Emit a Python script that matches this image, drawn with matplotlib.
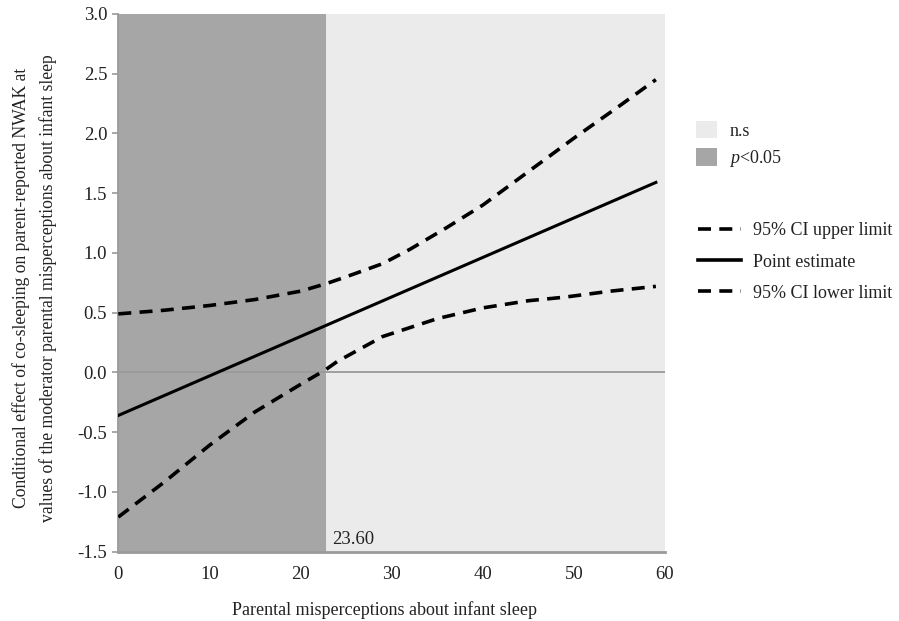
import matplotlib
matplotlib.use("Agg")
import matplotlib.pyplot as plt
from matplotlib.patches import Patch
from matplotlib.lines import Line2D

plt.rcParams['font.family'] = ['Liberation Serif', 'DejaVu Serif']
plt.rcParams['axes.unicode_minus'] = False
plt.rcParams['mathtext.fontset'] = 'custom'
plt.rcParams['mathtext.rm'] = 'Liberation Serif'
plt.rcParams['mathtext.it'] = 'Liberation Serif:italic'

# values
x_est = [0, 59]
point_estimate = [-0.36, 1.59]

x_upper = [0, 5, 10, 15, 20, 22.7, 25, 29, 32, 36, 40, 45, 50, 55, 59]
ci_upper = [0.49, 0.52, 0.56, 0.61, 0.68, 0.74, 0.80, 0.91, 1.03, 1.21, 1.40, 1.68, 1.96, 2.23, 2.45]

x_lower = [0, 5, 10, 15, 20, 22.7, 24, 29, 35, 40, 45, 49, 54, 59]
ci_lower = [-1.21, -0.92, -0.61, -0.33, -0.10, 0.02, 0.09, 0.30, 0.45, 0.54, 0.60, 0.63, 0.68, 0.72]

sig_bound = 22.8
jn_label = "23.60"
x_ticks = [0, 10, 20, 30, 40, 50, 60]
y_ticks = [-1.5, -1.0, -0.5, 0.0, 0.5, 1.0, 1.5, 2.0, 2.5, 3.0]

dark = '#a6a6a6'
light = '#ebebeb'
txt = '#222222'
fs = 13.5

fig = plt.figure(figsize=(8.99, 6.21), dpi=100)
ax = fig.add_axes([0.1316, 0.1116, 0.6081, 0.866])

ax.axvspan(0, sig_bound, color=dark, lw=0, zorder=0)
ax.axvspan(sig_bound, 60, color=light, lw=0, zorder=0)
ax.axhline(0, color='#9a9a9a', lw=1.3, zorder=1)

ax.plot(x_upper, ci_upper, color='black', lw=2.6, dashes=(3.6, 2.3), zorder=3)
ax.plot(x_est, point_estimate, color='black', lw=2.2, zorder=3)
ax.plot(x_lower, ci_lower, color='black', lw=2.6, dashes=(3.6, 2.3), zorder=3)

ax.text(sig_bound + 0.7, -1.47, jn_label, fontsize=fs, ha='left', va='bottom', color=txt)

ax.set_xlim(0, 60)
ax.set_ylim(-1.5, 3.0)
ax.set_xticks(x_ticks)
ax.set_xticklabels([str(v) for v in x_ticks])
ax.set_yticks(y_ticks)
ax.set_yticklabels([f"{v:.1f}" for v in y_ticks])
ax.tick_params(axis='x', length=0, pad=10, labelsize=fs, labelcolor=txt)
ax.tick_params(axis='y', length=4, width=1.2, color='#9a9a9a', pad=4, labelsize=fs, labelcolor=txt)

for s in ['top', 'right']:
    ax.spines[s].set_visible(False)
ax.spines['left'].set_color('#9a9a9a')
ax.spines['left'].set_linewidth(1.3)
ax.spines['bottom'].set_color('#9a9a9a')
ax.spines['bottom'].set_linewidth(2)

ax.set_xlabel('Parental misperceptions about infant sleep', fontsize=13, color=txt)
ax.xaxis.set_label_coords(0.487, -0.092)
ax.set_ylabel('Conditional effect of co-sleeping on parent-reported NWAK at\n'
              'values of the moderator parental misperceptions about infant sleep',
              fontsize=12.7, linespacing=1.6, color=txt)
ax.yaxis.set_label_coords(-0.113, 0.49)

# legends
patch_handles = [Patch(facecolor=light, edgecolor='none'), Patch(facecolor=dark, edgecolor='none')]
leg1 = fig.legend(patch_handles, ['n.s', r'$p$<0.05'], loc='upper left',
                  bbox_to_anchor=(0.756, 0.832), frameon=False, fontsize=13,
                  handlelength=1.15, handleheight=1.15, handletextpad=0.7, labelspacing=0.45)
for t in leg1.get_texts():
    t.set_color(txt)
line_handles = [Line2D([], [], color='black', lw=2.6, dashes=(3.6, 2.3)),
                Line2D([], [], color='black', lw=2.6),
                Line2D([], [], color='black', lw=2.6, dashes=(3.6, 2.3))]
leg2 = fig.legend(line_handles, ['95% CI upper limit', 'Point estimate', '95% CI lower limit'],
                  loc='upper left', bbox_to_anchor=(0.758, 0.668), frameon=False, fontsize=13,
                  handlelength=2.4, handletextpad=0.65, labelspacing=0.78)
for t in leg2.get_texts():
    t.set_color(txt)

fig.savefig('out.png', dpi=100)
